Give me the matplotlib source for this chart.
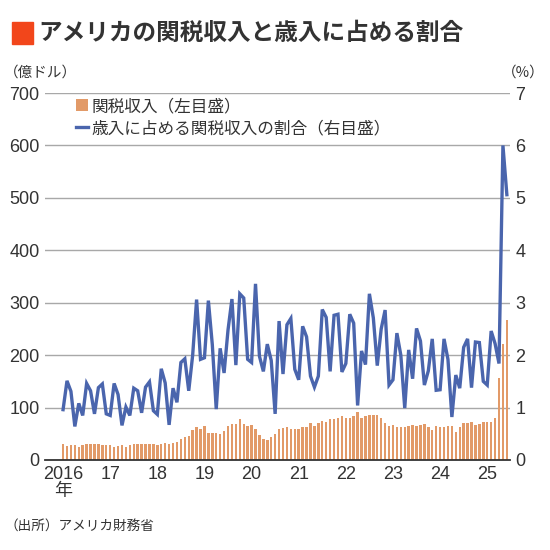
import matplotlib
matplotlib.use("Agg")
import matplotlib.pyplot as plt
from matplotlib.patches import Patch, Rectangle
from matplotlib.lines import Line2D
import numpy as np

plt.rcParams['font.family'] = ['Noto Sans CJK JP', 'DejaVu Sans']

# Monthly data, Jan 2016 - Jun 2025
tariff_revenue = [  # 億ドル
    30, 27, 28, 28, 25.5, 28, 30, 30.5, 30.5, 30, 29, 29,          # 2016
    28.7, 25.5, 27.4, 29, 25.5, 29, 31, 30.5, 31, 31, 31, 31,      # 2017
    28, 31, 33, 30.5, 33, 35, 41, 43, 45, 57, 62, 60,              # 2018
    65, 51, 51, 51, 49, 55, 64, 69, 68, 78, 68, 64,                # 2019
    67, 59, 48, 41, 38, 43, 49, 59, 60.5, 62, 59, 59,              # 2020
    60, 62, 63, 71, 64, 70, 74.5, 73, 78, 78, 80, 83,              # 2021
    81, 81, 84, 91, 81, 83, 85, 85, 86, 81, 70, 65,                # 2022
    67, 62, 62, 63, 64, 67, 64, 67, 68, 62, 58, 64,                # 2023
    62, 62, 64, 65, 53, 62, 70, 71, 72, 67, 68, 72,                # 2024
    73, 72, 81, 156, 222, 267,                                     # 2025
]
share_of_receipts = [  # %
    0.96, 1.51, 1.31, 0.64, 1.08, 0.85, 1.46, 1.32, 0.88, 1.38, 1.45, 0.88,
    0.85, 1.46, 1.25, 0.66, 1.01, 0.85, 1.37, 1.32, 0.90, 1.39, 1.49, 0.94,
    0.87, 1.74, 1.47, 0.67, 1.37, 1.10, 1.86, 1.93, 1.32, 2.00, 3.06, 1.92,
    1.95, 3.04, 2.20, 0.97, 2.13, 1.66, 2.48, 3.07, 1.81, 3.17, 3.09, 1.92,
    1.86, 3.36, 1.98, 1.69, 2.21, 1.90, 0.88, 2.65, 1.64, 2.58, 2.70, 1.73,
    1.53, 2.55, 2.35, 1.60, 1.39, 1.60, 2.87, 2.72, 1.69, 2.76, 2.78, 1.68,
    1.84, 2.78, 2.61, 1.04, 2.08, 1.82, 3.17, 2.71, 1.80, 2.50, 2.86, 1.43,
    1.53, 2.42, 2.00, 0.99, 2.10, 1.55, 2.51, 2.27, 1.43, 1.70, 2.31, 1.33,
    1.34, 2.31, 1.92, 0.82, 1.62, 1.37, 2.15, 2.31, 1.38, 2.25, 2.24, 1.50,
    1.43, 2.46, 2.22, 1.84, 6.00, 5.06,
]
year_labels = ['2016\n年', '17', '18', '19', '20', '21', '22', '23', '24', '25']
left_ticks = [0, 100, 200, 300, 400, 500, 600, 700]
right_ticks = [0, 1, 2, 3, 4, 5, 6, 7]

title = 'アメリカの関税収入と歳入に占める割合'
label_bar = '関税収入（左目盛）'
label_line = '歳入に占める関税収入の割合（右目盛）'
source = '（出所）アメリカ財務省'

bar_color = '#e29a68'
line_color = '#4a65ad'
text_color = '#333333'
grid_color = '#a8a8a8'
num_font = ['Liberation Sans', 'DejaVu Sans']

W, H = 550, 550
fig = plt.figure(figsize=(5.5, 5.5), dpi=100)
ax = fig.add_axes([45 / W, 1 - 460 / H, (510 - 45) / W, (460 - 93) / H])
ax2 = ax.twinx()

months = np.arange(len(tariff_revenue))
ax.bar(months, tariff_revenue, width=0.62, color=bar_color, zorder=2)
ax2.plot(months[:len(share_of_receipts)], share_of_receipts, color=line_color,
         lw=2.4, solid_joinstyle='miter', zorder=3)

ax.set_xlim(-4.6, 113.8)
ax.set_ylim(0, 700)
ax2.set_ylim(0, 7)

ax.set_yticks(left_ticks)
ax.set_yticklabels([str(t) for t in left_ticks], family=num_font, fontsize=13, color=text_color)
ax2.set_yticks(right_ticks)
ax2.set_yticklabels([str(t) for t in right_ticks], family=num_font, fontsize=13, color=text_color)
ax.set_xticks(np.arange(0, 12 * len(year_labels), 12))
ax.set_xticklabels(year_labels, fontsize=13, color=text_color, linespacing=1.05)
for lbl in ax.get_xticklabels():
    lbl.set_family(['Liberation Sans', 'Noto Sans CJK JP'])

ax.tick_params(axis='y', length=0, pad=4)
ax2.tick_params(axis='y', length=0, pad=4)
ax.tick_params(axis='x', length=0, pad=4)

for a in (ax, ax2):
    for s in ('top', 'left', 'right', 'bottom'):
        a.spines[s].set_visible(False)
ax.spines['bottom'].set_visible(True)
ax.spines['bottom'].set_color('#333333')
ax.spines['bottom'].set_linewidth(1.3)
ax.spines['bottom'].set_zorder(4)

ax.yaxis.grid(True, color=grid_color, lw=1.0, zorder=0)
ax.set_axisbelow(True)

# Title
fig.patches.append(Rectangle((12 / W, 1 - 44 / H), 21 / W, 22 / H,
                             transform=fig.transFigure, color='#f2461b'))
fig.text(38 / W, 1 - 33 / H, title, fontsize=17, fontweight='bold',
         color=text_color, va='center', ha='left')

# Unit labels
fig.text(4 / W, 1 - 73 / H, '（億ドル）', fontsize=10.5, color=text_color, va='center', ha='left')
fig.text(545 / W, 1 - 73 / H, '（%）', fontsize=10.5, color=text_color, va='center', ha='right')

# Legend
handles = [Patch(facecolor=bar_color, edgecolor='none'),
           Line2D([0], [0], color=line_color, lw=2.4)]
leg = ax.legend(handles, [label_bar, label_line], loc='upper left',
                bbox_to_anchor=(76 / W, 1 - 98 / H), bbox_transform=fig.transFigure,
                frameon=False, fontsize=12, handlelength=0.72, handleheight=0.72,
                handletextpad=0.2, labelspacing=0.3, borderpad=0, borderaxespad=0)
for t in leg.get_texts():
    t.set_color(text_color)

# Source
fig.text(4 / W, 1 - 527 / H, source, fontsize=9.8, color=text_color, va='center', ha='left')

fig.savefig('out.png', dpi=100)
